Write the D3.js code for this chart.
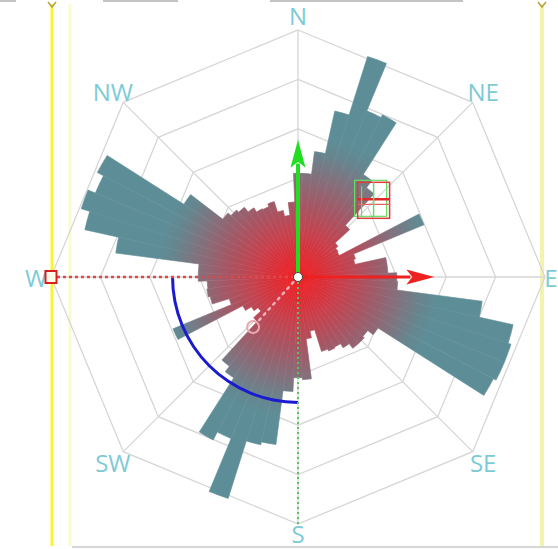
<!DOCTYPE html>
<html><head><meta charset="utf-8">
<script src="https://cdn.jsdelivr.net/npm/d3@7/dist/d3.min.js"></script>
<style>html,body{margin:0;padding:0;background:#fff;overflow:hidden}</style>
</head><body><svg id="c" width="558" height="549"></svg>
<script>
// ---- data ----
const binAngles = [0,5,10,15,20,25,30,35,40,45,50,55,60,65,70,75,80,85,90,95,100,105,110,115,120,125,130,135,140,145,150,155,160,165,170,175,
                   180,185,190,195,200,205,210,215,220,225,230,235,240,245,250,255,260,265,270,275,280,285,290,295,300,305,310,315,320,325,330,335,340,345,350,355];
const binValues = [10.5,10.5,12.8,17.2,23.4,18.2,18.5,12.3,11.4,7.1,5.1,4.8,4.7,13.8,6.1,5.9,9.1,9.1,10.0,10.1,18.8,22.3,22.6,22.6,22.3,9.6,8.9,9.1,9.1,8.5,8.0,8.1,7.9,5.6,6.3,10.4,
                   10.2,11.6,17.1,17.4,23.5,17.7,18.6,12.1,11.4,6.1,5.1,5.6,6.3,13.7,7.3,9.1,9.3,9.2,10.1,10.1,18.6,22.1,23.0,22.2,22.9,13.7,9.6,9.2,8.9,8.3,7.8,7.7,8.0,6.9,6.3,7.6];
const ringTicks = [5,10,15,20,25];
const compassLabels = ['N','NE','E','SE','S','SW','W','NW'];
const compassAngles = [0,45,90,135,180,225,270,315];
const labelValues = [26.5,26.5,25.6,26.5,26.0,26.5,26.5,26.5];
const arrowAngles = [0,90];
const arrowValues = [13.9,13.8];
const arrowColors = ['#22dd22','#ee2020'];
const arcValue = 12.7;           // blue arc radius (S to W)
const arcAngles = [180,270];
const ringMarkAngle = 222, ringMarkValue = 6.8;
const boxMarkAngle = 44.6, boxMarkValue = 10.9;

// ---- layout ----
const cx = 298, cy = 277, R = 247;
const svg = d3.select('#c');
svg.append('rect').attr('width',558).attr('height',549).attr('fill','#fff');
const rScale = d3.scaleLinear().domain([0,25]).range([0,R]);
const rad = d => d*Math.PI/180;
const pt = (deg,v) => [Math.sin(rad(deg))*rScale(v), -Math.cos(rad(deg))*rScale(v)];

// frame decorations
svg.append('line').attr('x1',72).attr('x2',558).attr('y1',547).attr('y2',547).attr('stroke','#c8c8c8').attr('stroke-width',1.5);
[[0,16],[103,178],[270,463]].forEach(s=>svg.append('line').attr('x1',s[0]).attr('x2',s[1]).attr('y1',1).attr('y2',1).attr('stroke','#c4c4c4').attr('stroke-width',2));
svg.append('line').attr('x1',cx-R+19).attr('x2',cx-R+19).attr('y1',4).attr('y2',546).attr('stroke','#fbfbd2').attr('stroke-width',3);
svg.append('line').attr('x1',cx-R+1).attr('x2',cx-R+1).attr('y1',4).attr('y2',546).attr('stroke','#f6f630').attr('stroke-width',3);
svg.append('line').attr('x1',cx+R-3).attr('x2',cx+R-3).attr('y1',4).attr('y2',546).attr('stroke','#f3f3b0').attr('stroke-width',4);
[cx-R+1, cx+R-3].forEach(x=>svg.append('path').attr('d',`M${x-4},2 L${x},7 L${x+4},2`).attr('fill','none').attr('stroke','#b8a040').attr('stroke-width',1.5));

const g = svg.append('g').attr('transform',`translate(${cx},${cy})`);

// gradient
const defs = svg.append('defs');
const grad = defs.append('radialGradient').attr('id','barGrad').attr('gradientUnits','userSpaceOnUse')
  .attr('cx',0).attr('cy',0).attr('r',rScale(14.5));
[[0,'#f41818'],[0.12,'#e2262e'],[0.3,'#c8404c'],[0.5,'#a65664'],[0.7,'#84707c'],[0.88,'#66868f'],[1,'#5d8e98']]
  .forEach(s=>grad.append('stop').attr('offset',s[0]).attr('stop-color',s[1]));

// grid
const ringLine = d3.lineRadial().angle(d=>rad(d)).curve(d3.curveLinearClosed);
ringTicks.forEach(t=>{
  g.append('path').attr('d', ringLine.radius(rScale(t))(compassAngles))
   .attr('fill','none').attr('stroke','#d6d6d6').attr('stroke-width',1.3);
});
compassAngles.forEach(a=>{
  const p = pt(a,25);
  g.append('line').attr('x1',0).attr('y1',0).attr('x2',p[0]).attr('y2',p[1]).attr('stroke','#d6d6d6').attr('stroke-width',1.3);
});

// bars
const arc = d3.arc().innerRadius(0);
g.selectAll('path.bar').data(binAngles.map((a,i)=>({a, v:binValues[i]}))).enter().append('path')
  .attr('class','bar')
  .attr('d', d=>arc({outerRadius:rScale(d.v), startAngle:rad(d.a-2.5), endAngle:rad(d.a+2.5)}))
  .attr('fill','url(#barGrad)').attr('stroke','url(#barGrad)').attr('stroke-width',0.6).attr('stroke-linejoin','round');

// labels
compassLabels.forEach((l,i)=>{
  const p = pt(compassAngles[i], labelValues[i]);
  g.append('text').attr('x',p[0]).attr('y',p[1]).attr('text-anchor','middle').attr('dominant-baseline','central')
   .attr('font-family','Open Sans, sans-serif').attr('font-size',24).attr('fill','#7ccbd4').text(l);
});

// blue arc
g.append('path').attr('d', d3.arc()({innerRadius:rScale(arcValue)-1.5, outerRadius:rScale(arcValue)+1.5,
   startAngle:rad(arcAngles[0]), endAngle:rad(arcAngles[1])})).attr('fill','#1a1ad0');

// dotted lines
const pw = pt(270,25), ps = pt(180,25);
g.append('line').attr('x1',pw[0]).attr('y1',pw[1]).attr('x2',0).attr('y2',0)
 .attr('stroke','#e04848').attr('stroke-width',2.5).attr('stroke-dasharray','3,3');
g.append('line').attr('x1',0).attr('y1',0).attr('x2',ps[0]).attr('y2',ps[1])
 .attr('stroke','#5cc45c').attr('stroke-width',2).attr('stroke-dasharray','2,3');
const pr = pt(ringMarkAngle, ringMarkValue);
g.append('line').attr('x1',0).attr('y1',0).attr('x2',pr[0]*0.88).attr('y2',pr[1]*0.88)
 .attr('stroke','#f0b0b8').attr('stroke-width',2.5).attr('stroke-dasharray','2,5').attr('stroke-linecap','round');
g.append('circle').attr('cx',pr[0]).attr('cy',pr[1]).attr('r',6).attr('fill','none').attr('stroke','#eaa8b0').attr('stroke-width',2);

// W marker
g.append('rect').attr('x',pw[0]-5.5).attr('y',pw[1]-6).attr('width',11).attr('height',12)
 .attr('fill','#fffbe8').attr('stroke','#d62020').attr('stroke-width',2);

// box marker
const pb = pt(boxMarkAngle, boxMarkValue);
const bx = pb[0], by = pb[1];
g.append('rect').attr('x',bx-16).attr('y',by-18).attr('width',32).attr('height',36).attr('fill','none').attr('stroke','#66dd66').attr('stroke-width',1.2).attr('transform','translate(-3,-2)');
g.append('rect').attr('x',bx-16).attr('y',by-18).attr('width',32).attr('height',36).attr('fill','none').attr('stroke','#e03a3a').attr('stroke-width',1.5);
g.append('line').attr('x1',bx-16).attr('x2',bx+16).attr('y1',by-1).attr('y2',by-1).attr('stroke','#e02828').attr('stroke-width',2.5);
g.append('line').attr('x1',bx-16).attr('x2',bx+16).attr('y1',by+4).attr('y2',by+4).attr('stroke','#e86060').attr('stroke-width',1.2);
g.append('line').attr('x1',bx).attr('x2',bx).attr('y1',by-18).attr('y2',by+18).attr('stroke','#66dd66').attr('stroke-width',1.5);
g.append('line').attr('x1',bx-12).attr('x2',bx-12).attr('y1',by-14).attr('y2',by+18).attr('stroke','#66dd66').attr('stroke-width',1.2);

// arrows
arrowAngles.forEach((a,i)=>{
  const len = rScale(arrowValues[i]);
  const ag = g.append('g').attr('transform',`rotate(${a})`);
  ag.append('line').attr('x1',0).attr('y1',0).attr('x2',0).attr('y2',-(len-24)).attr('stroke',arrowColors[i]).attr('stroke-width',i===0?4:3);
  ag.append('path').attr('d',`M0,${-len} L7.5,${-(len-28)} L0,${-(len-22)} L-7.5,${-(len-28)} Z`).attr('fill',arrowColors[i]);
});

// center dot
g.append('circle').attr('r',4.5).attr('fill','#fff').attr('stroke','#444').attr('stroke-width',1);
</script></body></html>
